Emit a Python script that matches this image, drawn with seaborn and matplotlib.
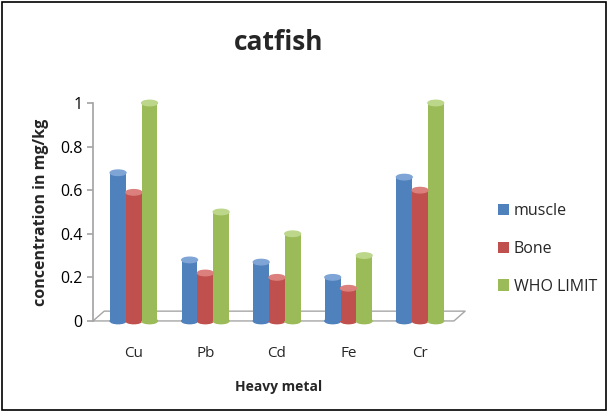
"""Catfish heavy metal concentrations, Excel-style cylinder bars."""

import matplotlib.pyplot as plt
import pandas as pd
import seaborn as sns
from matplotlib.patches import Ellipse, Rectangle

metals = ["Cu", "Pb", "Cd", "Fe", "Cr"]
muscle = [0.68, 0.28, 0.27, 0.20, 0.66]
bone = [0.59, 0.22, 0.20, 0.15, 0.60]
who_limit = [1.00, 0.50, 0.40, 0.30, 1.00]
series = ["muscle", "Bone", "WHO LIMIT"]
colors = ["#4F81BD", "#C0504D", "#9BBB59"]
cap_colors = ["#7FA5D6", "#DB807D", "#BCD68A"]

sns.set_theme(style="white")
plt.rcParams["font.family"] = ["Open Sans", "DejaVu Sans"]

df = pd.DataFrame({"metal": metals, "muscle": muscle, "Bone": bone,
                   "WHO LIMIT": who_limit})
long = df.melt(id_vars="metal", var_name="series", value_name="value")

fig = plt.figure(figsize=(6.08, 4.12), dpi=100)
ax = fig.add_axes([0.153, 0.221, 0.612, 0.529])

sns.barplot(data=long, x="metal", y="value", hue="series", hue_order=series,
            palette=colors, width=0.66, gap=0.0, ax=ax, zorder=3,
            edgecolor="none", saturation=1)

# floor of the 3D plot
ax.plot([0, 0.03, 1.0, 0.97, 0], [0, 0.045, 0.045, 0, 0],
        transform=ax.transAxes, color="#A6A6A6", lw=1, clip_on=False, zorder=1)

# cylinder caps from bar geometry
for i, cont in enumerate(ax.containers):
    for bar in cont:
        x = bar.get_x() + bar.get_width() / 2
        h = bar.get_height()
        ax.add_patch(Ellipse((x, h), bar.get_width(), 0.025, color=cap_colors[i],
                             zorder=4, clip_on=False))
        ax.add_patch(Ellipse((x, 0), bar.get_width(), 0.025, color=colors[i],
                             zorder=2, clip_on=False))

ax.set_xlim(-0.57, 4.63)
ax.set_ylim(0, 1)
ax.set_yticks([0, 0.2, 0.4, 0.6, 0.8, 1])
ax.set_yticklabels(["0", "0.2", "0.4", "0.6", "0.8", "1"])
for s in ["top", "right", "bottom"]:
    ax.spines[s].set_visible(False)
ax.spines["left"].set_color("#A6A6A6")
ax.tick_params(axis="y", colors="#A6A6A6", length=4, direction="out",
               labelcolor="black", labelsize=11.5, left=True)
ax.tick_params(axis="x", length=0, labelsize=11, pad=18)
ax.set_xlabel("Heavy metal", fontsize=10, fontweight="bold", labelpad=14)
ax.set_ylabel("concentration in mg/kg", fontsize=11.5, fontweight="bold",
              labelpad=8)
ax.set_title("catfish", fontsize=19, fontweight="bold", pad=38)

ax.legend(loc="center left", bbox_to_anchor=(1.07, 0.33), frameon=False,
          fontsize=11.5, handlelength=0.7, handleheight=0.7, handletextpad=0.3,
          labelspacing=1.35, borderaxespad=0)

fig.patches.append(Rectangle((0.004, 0.006), 0.992, 0.988, fill=False,
                             edgecolor="black", lw=1.2,
                             transform=fig.transFigure, figure=fig))

fig.savefig("out.png", dpi=100)
